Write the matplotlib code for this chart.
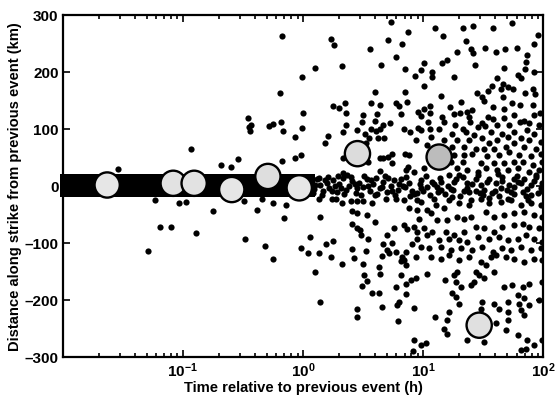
import numpy as np
import matplotlib
matplotlib.use("Agg")
import matplotlib.pyplot as plt
from matplotlib.ticker import FixedLocator, NullFormatter

# ---------------- data ----------------
# each pair: (log10 of time relative to previous event [h], distance along strike [km])
left_sparse = [(-1.539, 30), (-1.292, -113), (-1.233, -25), (-1.189, -71), (-1.100, -71),
               (-1.033, -29), (-0.978, -28), (-0.936, 66), (-0.894, -82), (-0.747, -44),
               (-0.686, 37), (-0.597, 33), (-0.539, 47), (-0.491, -26), (-0.480, -92),
               (-0.458, 120), (-0.450, 104), (-0.442, 96), (-0.436, 107), (-0.380, -42),
               (-0.344, -23), (-0.316, -105), (-0.283, 105), (-0.252, -127), (-0.250, 109),
               (-0.247, -29), (-0.191, 163), (-0.180, 113), (-0.172, 264), (-0.172, 44),
               (-0.164, 97), (-0.158, -56), (-0.141, -33)]

mid_upper = [(0.736, 288), (0.878, 270), (0.230, 259), (0.708, 257), (0.258, 247), (0.828, 249),
             (0.558, 241), (0.772, 227), (0.103, 208), (0.325, 211), (0.650, 212), (0.847, 206),
             (-0.011, 192), (0.930, 193), (0.600, 165), (0.850, 165), (0.247, 140), (0.300, 137),
             (0.347, 146), (0.564, 146), (0.639, 142), (0.772, 146), (0.800, 140), (0.864, 147),
             (-0.003, 129), (0.355, 129), (0.619, 127), (0.819, 127), (0.958, 130), (0.497, 124),
             (0.494, 112), (0.600, 115), (-0.011, 102), (0.361, 108), (0.722, 110), (0.666, 107),
             (0.644, 101), (0.841, 101), (0.891, 95), (0.955, 102), (0.336, 95), (0.452, 98),
             (0.519, 91), (0.566, 100), (0.611, 96), (0.208, 88), (-0.064, 86), (0.627, 85),
             (0.675, 85), (0.939, 81), (0.183, 75), (0.550, 84), (0.527, 75), (-0.070, 50),
             (-0.020, 54), (0.336, 50), (0.639, 49), (0.669, 49), (0.708, 51), (0.742, 56),
             (0.847, 57), (0.883, 54), (0.744, 41), (0.875, 33), (0.858, 28), (0.639, 27),
             (0.330, 23), (0.544, 43)]

mid_lower = [(0.133, -23), (0.239, -23), (0.272, -22), (0.328, -30), (0.397, -26), (0.447, -26),
             (0.500, -26), (0.578, -30), (0.689, -22), (0.772, -23), (0.842, -25), (0.953, -25),
             (0.883, -38), (0.953, -42), (0.144, -54), (0.411, -44), (0.453, -48), (0.536, -50),
             (0.411, -66), (0.600, -63), (0.453, -73), (0.472, -77), (0.758, -73), (0.842, -68),
             (0.869, -75), (0.925, -71), (0.953, -80), (0.061, -89), (0.480, -86), (0.544, -92),
             (0.702, -86), (-0.014, -108), (0.044, -117), (0.133, -118), (0.194, -102),
             (0.250, -97), (0.230, -124), (0.411, -111), (0.427, -126), (0.527, -114),
             (0.655, -122), (0.669, -102), (0.702, -112), (0.716, -118), (0.772, -115),
             (0.739, -99), (0.911, -101), (0.827, -124), (0.855, -115), (0.939, -124),
             (0.322, -136), (0.500, -137), (0.633, -142), (0.639, -155), (0.814, -132),
             (0.861, -139), (0.842, -130), (0.100, -151), (0.508, -156), (0.536, -166),
             (0.494, -175), (0.814, -156), (0.855, -171), (0.897, -165), (0.572, -187),
             (0.633, -187), (0.777, -177), (0.861, -190), (0.139, -203), (0.453, -215),
             (0.447, -229), (0.655, -212), (0.800, -204), (0.786, -209), (0.925, -213),
             (0.794, -237), (0.925, -270), (0.916, -289)]

right_upper = [(1.744, 287), (1.103, 277), (1.336, 278), (1.417, 281), (1.578, 278), (1.958, 265),
               (1.169, 263), (1.358, 254), (1.925, 250), (1.281, 236), (1.397, 240), (1.419, 233),
               (1.514, 242), (1.608, 236), (1.681, 240), (1.778, 243), (1.864, 230), (1.858, 218),
               (1.203, 222), (1.158, 216), (1.008, 216), (0.981, 204), (1.072, 201), (1.078, 192),
               (1.261, 191), (1.436, 212), (1.675, 208), (1.847, 205), (1.925, 201), (1.794, 195),
               (1.814, 189), (1.619, 189), (1.669, 180), (1.703, 174), (1.572, 176), (1.750, 171),
               (1.011, 175), (1.447, 163), (1.489, 157), (1.539, 167), (1.647, 170), (1.911, 170),
               (1.931, 161), (1.847, 163), (1.150, 158), (1.508, 149), (1.667, 156), (1.739, 146),
               (1.803, 142), (1.319, 148), (1.586, 139), (1.675, 135), (1.058, 141), (1.006, 135),
               (1.222, 138), (1.369, 130), (1.411, 133), (1.919, 142), (1.975, 128), (0.986, 123),
               (1.058, 128), (1.156, 122), (1.258, 127), (1.303, 129), (1.378, 122), (1.392, 113),
               (1.494, 111), (1.542, 122), (1.583, 118), (1.758, 125), (1.808, 112), (1.925, 125),
               (1.042, 112), (1.175, 113), (1.267, 107), (1.328, 101), (1.453, 104), (1.514, 105),
               (1.619, 107), (1.675, 119), (1.717, 107), (1.842, 114), (1.883, 110), (1.967, 107),
               (0.981, 98), (1.058, 101), (1.133, 101), (1.244, 92), (1.356, 95), (1.425, 90),
               (1.569, 95), (1.653, 92), (1.758, 95), (1.864, 98), (1.925, 92), (1.064, 87),
               (1.175, 81), (1.286, 81), (1.378, 81), (1.494, 84), (1.550, 75), (1.619, 81),
               (1.703, 87), (1.814, 84), (1.883, 81), (1.981, 78), (1.036, 72), (1.244, 69),
               (1.342, 69), (1.439, 66), (1.508, 66), (1.592, 66), (1.689, 69), (1.758, 75),
               (1.842, 69), (1.939, 66), (1.258, 54), (1.342, 54), (1.411, 57), (1.536, 52),
               (1.633, 54), (1.717, 60), (1.800, 54), (1.897, 52), (1.981, 57), (1.231, 43),
               (1.328, 43), (1.481, 40), (1.592, 40), (1.675, 40), (1.758, 43), (1.828, 43),
               (1.911, 37), (1.994, 43), (1.286, 31), (1.369, 28), (1.453, 25), (1.522, 31),
               (1.619, 28), (1.703, 28), (1.786, 31), (1.883, 25), (1.967, 28), (1.008, 31),
               (0.925, 25), (1.217, 19), (1.328, 16), (1.439, 13), (1.550, 13), (1.661, 16),
               (1.758, 13), (1.842, 13), (1.939, 16), (0.981, 11), (1.078, 8), (1.147, 8),
               (1.258, 8), (1.369, 5), (1.481, 2), (1.606, 5), (1.717, 2), (1.814, 5),
               (1.897, 2), (1.994, 5), (0.981, -4), (1.119, -2), (1.231, -5), (1.369, -3),
               (1.508, -6), (1.647, -4), (1.758, -2), (1.869, -5), (1.981, -3)]

right_lower = [(0.981, -28), (1.036, -42), (1.106, -33), (1.175, -39), (1.217, -25), (1.300, -30),
               (1.383, -33), (1.481, -22), (1.550, -30), (1.647, -28), (1.731, -25), (1.814, -33),
               (1.897, -30), (1.981, -33), (0.967, -57), (1.064, -48), (1.119, -60), (1.203, -60),
               (1.286, -54), (1.342, -57), (1.397, -54), (1.522, -45), (1.592, -54), (1.675, -51),
               (1.758, -48), (1.842, -45), (1.925, -51), (1.994, -54), (1.008, -74), (1.078, -80),
               (1.189, -80), (1.258, -86), (1.342, -80), (1.439, -71), (1.508, -74), (1.592, -80),
               (1.661, -71), (1.758, -68), (1.828, -66), (1.883, -71), (1.967, -74), (0.953, -92),
               (1.036, -86), (1.133, -95), (1.217, -92), (1.300, -95), (1.369, -98), (1.453, -89),
               (1.550, -92), (1.633, -89), (1.703, -95), (1.786, -92), (1.856, -86), (1.925, -92),
               (1.994, -98), (0.981, -106), (1.050, -109), (1.147, -106), (1.231, -112),
               (1.314, -109), (1.411, -112), (1.494, -106), (1.578, -115), (1.661, -109),
               (1.731, -112), (1.814, -106), (1.897, -112), (1.981, -109), (1.064, -124),
               (1.147, -127), (1.217, -121), (1.300, -130), (1.383, -124), (1.481, -133),
               (1.564, -124), (1.606, -121), (1.689, -124), (1.758, -127), (1.842, -133),
               (1.925, -127), (1.994, -130), (1.522, -139), (1.439, -150), (1.467, -156),
               (1.592, -150), (1.286, -150), (1.258, -156), (1.036, -155), (0.939, -162),
               (1.183, -165), (1.272, -168), (1.314, -177), (1.397, -174), (1.425, -169),
               (1.508, -162), (1.675, -177), (1.744, -174), (1.828, -177), (1.883, -171),
               (1.994, -168), (1.244, -187), (1.272, -194), (1.300, -206), (1.786, -191),
               (1.842, -197), (1.967, -200), (1.494, -203), (1.592, -206), (1.703, -203),
               (1.800, -206), (1.883, -209), (1.481, -215), (1.633, -215), (1.703, -220),
               (1.814, -218), (1.842, -226), (1.217, -220), (1.203, -235), (1.097, -229),
               (1.175, -250), (1.203, -259), (1.606, -241), (1.703, -235), (1.689, -253),
               (1.369, -270), (1.508, -273), (1.786, -261), (1.869, -270), (0.981, -279),
               (1.022, -276), (1.856, -285), (1.814, -288), (1.925, -279), (1.994, -270)]

near_zero = [(0.06, 8), (0.09, -5), (0.12, 12), (0.14, 2), (0.17, -8), (0.20, 6), (0.22, -3),
             (0.25, 10), (0.28, -10), (0.30, 4), (0.33, 14), (0.36, -6), (0.38, 0), (0.41, 9),
             (0.44, -12), (0.47, 5), (0.50, -2), (0.53, 12), (0.56, -8), (0.58, 3), (0.61, 15),
             (0.64, -4), (0.67, 7), (0.70, -11), (0.73, 1), (0.76, 10), (0.79, -6), (0.82, 13),
             (0.85, -2), (0.88, 6), (0.91, -9), (0.08, -12), (0.13, 15), (0.18, 11), (0.24, -9),
             (0.29, 17), (0.34, -14), (0.40, 16), (0.45, -4), (0.51, 18), (0.57, 11), (0.62, -13),
             (0.68, 17), (0.74, -8), (0.80, 4), (0.86, 16), (0.92, -14), (0.95, -12), (1.00, -8),
             (1.06, -16), (1.12, -10), (1.18, -14), (1.25, -6), (1.31, -18), (1.38, -11),
             (1.44, -9), (1.50, -15), (1.57, -12), (1.63, -17), (1.70, -7), (1.76, -13),
             (1.83, -10), (1.90, -16), (1.96, -12),
             (0.10, 2), (0.16, -15), (0.21, 16), (0.27, 0), (0.32, -3), (0.37, 19), (0.43, 3),
             (0.48, -16), (0.54, 0), (0.60, -16), (0.66, -1), (0.71, 14), (0.77, -15), (0.83, 1),
             (0.89, -17), (0.97, 3), (1.03, -1), (1.09, 4), (1.15, -7), (1.21, 1), (1.27, 12),
             (1.34, -9), (1.41, 3), (1.47, -12), (1.53, 7), (1.60, -8), (1.66, 9), (1.73, -10),
             (1.79, 8), (1.86, -18), (1.92, 9), (1.99, -8), (1.02, 17), (1.14, 14), (1.30, 20),
             (1.46, 19), (1.62, 21), (1.78, 18), (1.94, 20), (1.09, -22), (1.24, -19),
             (1.40, -24), (1.55, -20), (1.71, -22), (1.87, -25)]

# large events: time (h) and distance (km)
big_time_h = [0.0234, 0.083, 0.124, 0.255, 0.51, 0.93, 2.84, 13.6, 29.3]
big_dist_km = [2, 5, 5, -6, 17, -3, 57, 51, -244]
big_fill = ['#e6e6e6', '#e2e2e2', '#e2e2e2', '#e6e6e6', '#dedede', '#e6e6e6', '#dcdcdc', '#bcbcbc', '#e0e0e0']

# dense swarm drawn as a solid block near zero distance
band_time_h = [0.0095, 1.26]
band_low_km, band_high_km = -19, 21

x_major = [0.1, 1, 10, 100]
x_major_labels = [r'$10^{-1}$', r'$10^{0}$', r'$10^{1}$', r'$10^{2}$']
y_ticks = [-300, -200, -100, 0, 100, 200, 300]

# ---------------- plot ----------------
plt.rcParams['font.family'] = ['Liberation Sans', 'DejaVu Sans']
plt.rcParams['mathtext.fontset'] = 'custom'
plt.rcParams['mathtext.rm'] = 'Liberation Sans:bold'
plt.rcParams['mathtext.it'] = 'Liberation Sans:bold'

fig = plt.figure(figsize=(5.56, 3.99), dpi=100)
ax = fig.add_axes([0.113, 0.105, 0.864, 0.857])
ax.set_xscale('log')

pts = np.array(left_sparse + mid_upper + mid_lower + right_upper + right_lower + near_zero)
ax.fill_between(band_time_h, band_low_km, band_high_km, color='black', lw=0, zorder=1,
                clip_on=False)
ax.scatter(10 ** pts[:, 0], pts[:, 1], s=20, c='black', linewidths=0, zorder=2)
ax.scatter(big_time_h, big_dist_km, s=330, c=big_fill, edgecolors='black', linewidths=1.7,
           zorder=3)

ax.set_xlim(0.01, 100)
ax.set_ylim(-300, 300)

ax.xaxis.set_major_locator(FixedLocator(x_major))
ax.set_xticklabels(x_major_labels)
minors = [m * 10.0 ** e for e in range(-2, 2) for m in range(2, 10)]
ax.xaxis.set_minor_locator(FixedLocator(minors))
ax.xaxis.set_minor_formatter(NullFormatter())
ax.set_yticks(y_ticks)
ax.set_yticklabels([str(v).replace('-', '\u2013') for v in y_ticks])

ax.tick_params(which='both', direction='in', top=True, right=True, labelsize=11, width=1.2)
ax.tick_params(which='major', length=5, pad=3)
ax.tick_params(which='minor', length=3)
for lab in ax.get_yticklabels() + ax.get_xticklabels():
    lab.set_fontweight('bold')
for sp in ax.spines.values():
    sp.set_linewidth(1.6)

ax.set_xlabel('Time relative to previous event (h)', fontsize=10.6, fontweight='bold',
              labelpad=1)
ax.set_ylabel('Distance along strike from previous event (km)', fontsize=10.6,
              fontweight='bold', labelpad=2)

fig.savefig('out.png', dpi=100)
